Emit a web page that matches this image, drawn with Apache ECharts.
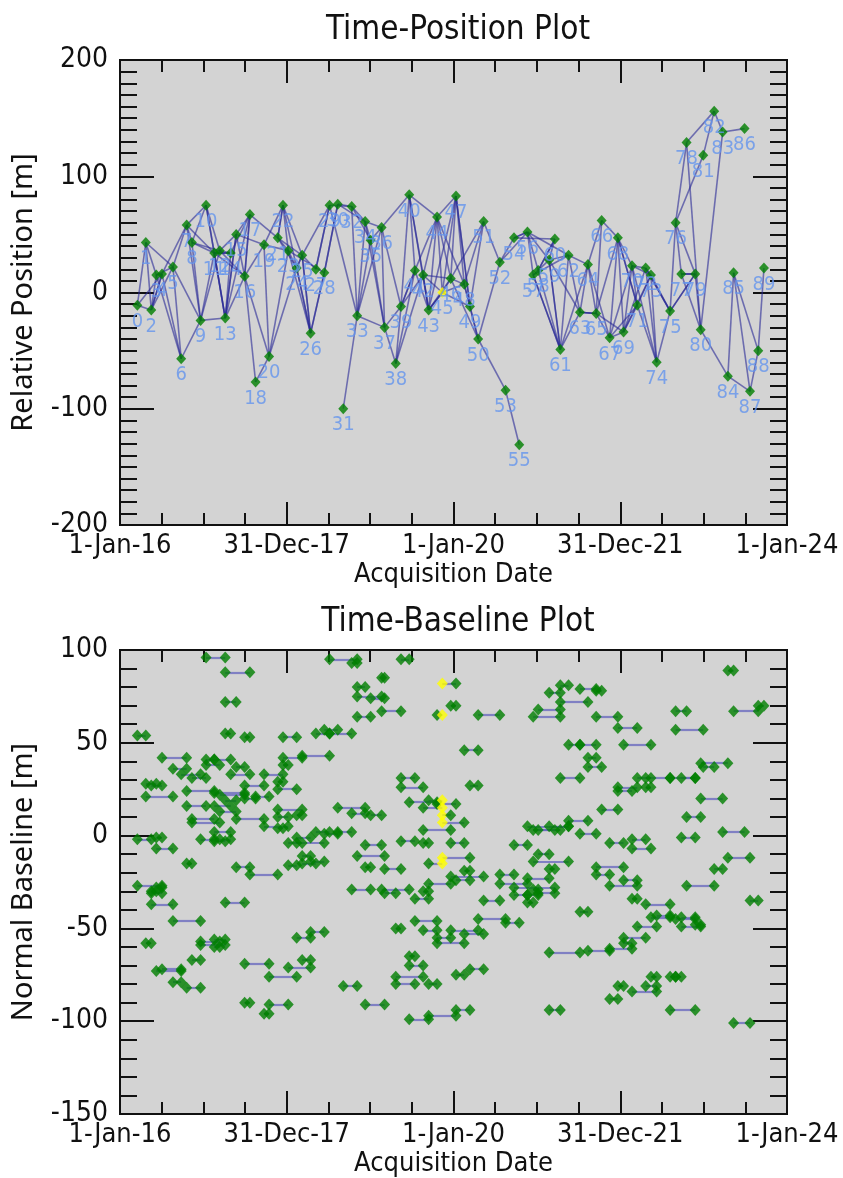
<!DOCTYPE html>
<html>
<head>
<meta charset="utf-8">
<script src="https://cdn.jsdelivr.net/npm/echarts@6/dist/echarts.min.js"></script>
<style>
  html, body { margin: 0; padding: 0; background: #ffffff; }
  #chart { width: 843px; height: 1178px; }
</style>
</head>
<body>
<div id="chart"></div>
<script>
// Acquisition dates of the SAR stack (index = acquisition number)
const acqDates = [
  '2016-03-17','2016-04-23','2016-05-17','2016-06-08','2016-07-03','2016-08-20','2016-09-25','2016-10-19','2016-11-11','2016-12-19',
  '2017-01-12','2017-02-17','2017-03-13','2017-04-06','2017-04-30','2017-05-24','2017-06-30','2017-07-23','2017-08-17','2017-09-23',
  '2017-10-15','2017-11-22','2017-12-15','2018-01-07','2018-02-13','2018-03-09','2018-04-15','2018-05-08','2018-06-14','2018-07-07',
  '2018-08-12','2018-09-05','2018-10-12','2018-11-05','2018-12-10','2019-01-03','2019-02-20','2019-03-05','2019-04-23','2019-05-16',
  '2019-06-21','2019-07-16','2019-08-21','2019-09-14','2019-10-21','2019-11-13','2019-12-20','2020-01-12','2020-02-17','2020-03-13',
  '2020-04-18','2020-05-12','2020-07-22','2020-08-16','2020-09-22','2020-10-15','2020-11-20','2020-12-15','2021-01-06','2021-02-23',
  '2021-03-20','2021-04-13','2021-05-19','2021-07-08','2021-08-12','2021-09-17','2021-10-11','2021-11-15','2021-12-21','2022-01-15',
  '2022-02-21','2022-03-16','2022-04-22','2022-05-15','2022-06-09','2022-08-07','2022-08-31','2022-09-25','2022-10-18','2022-11-25',
  '2022-12-19','2022-12-30','2023-02-16','2023-03-25','2023-04-17','2023-05-12','2023-06-29','2023-07-23','2023-08-28','2023-09-22'
];

// Relative position of each acquisition [m]
const relPosition = [
  -11, 43, -15, 15, 16, 22, -57, 58, 43, -24,
  75, 34, 36, -22, 34, 50, 14, 67, -77, 41,
  -55, 47, 75, 36, 21, 32, -35, 20, 17, 75,
  76, -100, 74, -20, 61, 45, 56, -30, -61, -12,
  84, 19, 15, -15, 65, 0, 12, 83, 7, -12,
  -40, 61, 26, -84, 47, -131, 52, 15, 19, 28,
  46, -49, 32, -17, 24, -18, 62, -39, 47, -34,
  23, -11, 21, 15, -60, -16, 60, 16, 129, 16,
  -32, 118, 156, 138, -72, 17, 141, -85, -50, 21
];

// Reference (super master) acquisition
const referenceIndex = 45;

// Interferometric pairs: [first acquisition, second acquisition, normal baseline in m]
const pairs = [
  [10,13,96],[13,17,88],[13,15,72],[0,1,54],[13,14,55],[16,17,53],[22,24,53],
  [27,29,55],[28,30,57],[29,32,55],[29,33,95],[32,33,93],
  [4,7,42],[10,11,41],[11,14,41],[10,12,38],
  [5,7,36],[6,9,33],[8,10,31],[14,17,33],[15,16,37],[19,22,33],[22,23,38],[22,25,42],[25,29,43],
  [1,3,28],[2,4,27],[1,5,21],[7,11,24],[11,16,23],[12,16,22],[7,10,16],[16,19,27],[18,20,21],[16,18,20],
  [11,14,16],[12,15,13],[13,15,19],[21,22,29],[21,24,25],
  [21,25,14],[21,23,10],[24,25,11],[30,34,15],[32,34,12],
  [8,11,9],[8,12,7],[15,19,9],[19,23,5],[21,22,4],
  [11,14,2],[12,14,-2],[11,13,-3],[9,11,-2],[0,2,-2],[3,4,-1],[3,5,-7],
  [27,29,2],[28,30,1],[30,32,2],[24,26,-1],[23,28,-4],[24,25,-4],
  [7,8,-15],[15,17,-17],[17,21,-21],[23,24,-16],[25,26,-11],[25,27,-15],[26,28,-14],
  [0,4,-27],[3,4,-28],[2,3,-30],[2,4,-31],[2,5,-37],[13,16,-36],[5,9,-46],[1,2,-58],
  [9,12,-57],[9,13,-59],[11,13,-56],[11,12,-60],
  [8,9,-67],[3,6,-73],[4,6,-72],[5,6,-79],[7,9,-82],[16,20,-69],[23,26,-71],[25,26,-67],
  [20,24,-76],[24,26,-55],[26,28,-52],[31,33,-81],[16,17,-90],[20,23,-91],[19,20,-96],
  [39,40,95],[36,37,85],[33,34,80],[33,36,75],[35,37,74],[36,39,67],[33,35,64],
  [45,47,82],[46,47,70],[44,45,65],[50,52,65],[48,50,46],[39,41,31],[39,42,26],[49,50,27],
  [40,44,18],[44,47,17],[43,45,19],[42,45,15],[45,46,11],[45,48,7],[35,36,11],[42,46,3],
  [39,41,-3],[42,43,-4],[46,48,-4],[34,36,-5],[33,37,-11],[45,49,-12],[43,45,-15],[34,35,-17],
  [37,39,-18],[48,49,-19],[46,51,-22],[47,49,-24],[43,46,-26],
  [52,54,-21],[52,56,-26],[56,59,-23],[54,56,-5],[58,59,-10],[57,62,-14],[59,60,-18],
  [56,62,5],[57,61,3],[58,60,3],[61,63,31],[62,63,49],[63,65,49],
  [59,61,77],[61,62,81],[63,65,79],[65,66,78],[61,64,72],[58,61,68],[57,61,64],
  [84,85,89],[76,78,67],[65,68,64],[68,71,58],[76,81,57],[85,88,67],[88,89,70],[69,73,49],
  [64,65,42],[64,66,37],[80,84,39],[81,82,37],
  [71,73,31],[72,75,31],[75,79,31],[77,79,31],
  [68,71,26],[68,70,24],[72,73,26],[80,83,20],[66,68,14],[78,80,10],[62,64,8],[59,62,5],
  [63,65,1],[83,86,2],[67,69,-4],[70,72,-2],[70,73,-7],[77,79,-1],[84,87,-12],[65,69,-17],
  [65,67,-21],[82,83,-18],[69,71,-24],[67,71,-27],[78,82,-27],
  [70,71,-34],[72,75,-37],[63,64,-41],[73,75,-44],[74,75,-43],[76,79,-45],[77,79,-44],
  [71,74,-49],[77,80,-49],[79,80,-48],
  [87,88,-35],[69,72,-55],[69,70,-58],[67,70,-61],[59,63,-63],[64,67,-62],[73,74,-76],
  [75,76,-76],[76,77,-76],[72,74,-81],[70,74,-84],[68,69,-81],[67,68,-88],[59,61,-94],
  [75,79,-94],[85,87,-101],
  [54,60,-28],[54,56,-32],[56,58,-32],[58,60,-31],[56,57,-36],[57,58,-29],
  [32,35,-29],[36,40,-29],[37,38,-31],[41,43,-34],[42,43,-30],[51,52,-35],[50,53,-45],
  [53,55,-47],[41,44,-46],[38,39,-50],[42,44,-51],[46,50,-51],[48,51,-53],[44,46,-55],
  [44,48,-58],[40,41,-65],[40,42,-70],[47,48,-75],[49,51,-72],[38,42,-76],[38,41,-80],
  [43,44,-80],[34,37,-91],[40,43,-99],[43,47,-97],[47,49,-94]
];

// Date axis tick labels (every 730.5 days from 1-Jan-2016)
const dateTickLabels = ['1-Jan-16', '31-Dec-17', '1-Jan-20', '31-Dec-21', '1-Jan-24'];
const dateTickStep = 730.5;
const dateAxisMax = 2922;

const DAY_MS = 86400000;
const epoch = Date.parse('2016-01-01T00:00:00Z');
const dayOf = d => (Date.parse(d + 'T00:00:00Z') - epoch) / DAY_MS;
const acqX = acqDates.map(dayOf);

const GREEN = '#008000';
const YELLOW = '#ffff00';
const INK = '#111111';
// horizontal text is narrow; the rotated axis names use a regular-width face
const FONT = "'Liberation Sans Narrow', 'DejaVu Sans Condensed', 'Noto Sans', sans-serif";
const FONT_WIDE = "'Noto Sans', 'Open Sans', sans-serif";

// ---------- top: time-position network ----------
const positionEdges = pairs.map(([i, j]) => ({
  coords: [[acqX[i], relPosition[i]], [acqX[j], relPosition[j]]]
}));
const positionPoints = acqX.map((x, i) => ({
  value: [x, relPosition[i], i],
  itemStyle: { color: i === referenceIndex ? YELLOW : GREEN }
}));

// ---------- bottom: time-baseline pairs ----------
const baselineSegments = pairs.map(([i, j, b]) => ({
  coords: [[acqX[i], b], [acqX[j], b]]
}));
const baselinePoints = [];
pairs.forEach(([i, j, b]) => {
  [i, j].forEach(k => baselinePoints.push({
    value: [acqX[k], b],
    itemStyle: { color: k === referenceIndex ? YELLOW : GREEN }
  }));
});

function dateAxis(gridIndex, position, showLabels) {
  return {
    type: 'value', gridIndex, position,
    min: 0, max: dateAxisMax, interval: dateTickStep,
    name: showLabels ? 'Acquisition Date' : '',
    nameLocation: 'middle', nameGap: 36,
    nameTextStyle: { fontFamily: FONT, fontSize: 27, color: INK },
    axisLine: { show: true, onZero: false, lineStyle: { color: INK, width: 2 } },
    axisTick: { show: true, inside: true, length: 23, lineStyle: { color: INK, width: 2 } },
    minorTick: { show: true, splitNumber: 4, length: 12, lineStyle: { color: INK, width: 2 } },
    axisLabel: {
      show: showLabels, margin: 7, fontFamily: FONT, fontSize: 27, color: INK,
      formatter: v => dateTickLabels[Math.round(v / dateTickStep)] || ''
    },
    splitLine: { show: false }
  };
}

function valueAxis(gridIndex, position, min, max, step, minorSplit, name) {
  return {
    type: 'value', gridIndex, position, min, max, interval: step,
    name: name || '', nameLocation: 'middle', nameGap: 82,
    nameTextStyle: { fontFamily: FONT_WIDE, fontSize: 29, color: INK },
    axisLine: { show: true, onZero: false, lineStyle: { color: INK, width: 2 } },
    axisTick: { show: true, inside: true, length: 34, lineStyle: { color: INK, width: 2 } },
    minorTick: { show: true, splitNumber: minorSplit, length: 17, lineStyle: { color: INK, width: 2 } },
    axisLabel: { show: !!name, margin: 12, fontFamily: FONT, fontSize: 28, color: INK },
    splitLine: { show: false }
  };
}

const chart = echarts.init(document.getElementById('chart'), null, { renderer: 'canvas' });
chart.setOption({
  animation: false,
  backgroundColor: '#ffffff',
  title: [
    { text: 'Time-Position Plot', left: 453, top: 9, textAlign: 'center',
      textStyle: { fontFamily: FONT, fontSize: 33, fontWeight: 'normal', color: INK } },
    { text: 'Time-Baseline Plot', left: 453, top: 601, textAlign: 'center',
      textStyle: { fontFamily: FONT, fontSize: 33, fontWeight: 'normal', color: INK } }
  ],
  grid: [
    { left: 120, top: 60, width: 667, height: 465, show: true,
      backgroundColor: '#d3d3d3', borderColor: INK, borderWidth: 2 },
    { left: 120, top: 650, width: 667, height: 468, show: true,
      backgroundColor: '#d3d3d3', borderColor: INK, borderWidth: 2 }
  ],
  xAxis: [
    dateAxis(0, 'bottom', true),
    dateAxis(0, 'top', false),
    dateAxis(1, 'bottom', true),
    dateAxis(1, 'top', false)
  ],
  yAxis: [
    valueAxis(0, 'left', -200, 200, 100, 10, 'Relative Position [m]'),
    valueAxis(0, 'right', -200, 200, 100, 10, ''),
    valueAxis(1, 'left', -150, 100, 50, 5, 'Normal Baseline [m]'),
    valueAxis(1, 'right', -150, 100, 50, 5, '')
  ],
  series: [
    {
      type: 'lines', coordinateSystem: 'cartesian2d', xAxisIndex: 0, yAxisIndex: 0,
      data: positionEdges, silent: true, z: 2,
      lineStyle: { color: 'rgba(40,40,150,0.6)', width: 1.6, opacity: 1 }
    },
    {
      type: 'scatter', xAxisIndex: 0, yAxisIndex: 0, data: positionPoints, z: 4,
      symbol: 'diamond', symbolSize: [10, 11],
      label: {
        show: true, position: 'bottom', distance: 1,
        formatter: p => String(p.value[2]),
        fontFamily: FONT, fontSize: 20, color: '#6495ed'
      },
      labelLayout: { hideOverlap: false }
    },
    {
      type: 'lines', coordinateSystem: 'cartesian2d', xAxisIndex: 2, yAxisIndex: 2,
      data: baselineSegments, silent: true, z: 2,
      lineStyle: { color: 'rgba(100,100,190,0.75)', width: 2.2, opacity: 1 }
    },
    {
      type: 'scatter', xAxisIndex: 2, yAxisIndex: 2, data: baselinePoints, z: 4,
      symbol: 'diamond', symbolSize: [11, 12]
    }
  ]
});
</script>
</body>
</html>
